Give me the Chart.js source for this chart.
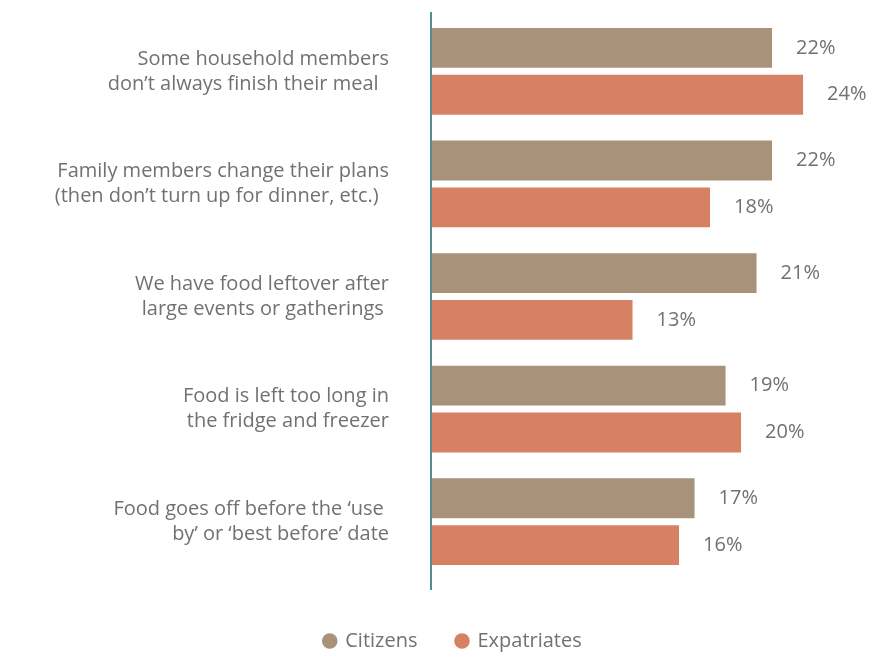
<!DOCTYPE html>
<html lang="en">
<head>
    <meta charset="UTF-8">
    <title>Reasons for food waste</title>
    <script src="https://cdn.jsdelivr.net/npm/chart.js"></script>
    <style>
        html, body { margin: 0; padding: 0; background: #ffffff; }
        #wrap { width: 887px; height: 655px; }
    </style>
</head>
<body>
    <div id="wrap"><canvas id="grafico"></canvas></div>
    <script>
        // categories (two lines each) and share of respondents per group, in %
        const reasons = [
            ["Some household members", "don’t always finish their meal  "],
            ["Family members change their plans", "(then don’t turn up for dinner, etc.)  "],
            ["We have food leftover after", "large events or gatherings "],
            ["Food is left too long in", "the fridge and freezer"],
            ["Food goes off before the ‘use ", "by’ or ‘best before’ date"]
        ];
        const citizens = [22, 22, 21, 19, 17];
        const expatriates = [24, 18, 13, 20, 16];

        const textGrey = "#717171";
        const fontName = "Open Sans";

        // percent labels to the right of each bar
        const valueLabels = {
            id: "valueLabels",
            afterDatasetsDraw(chart) {
                const ctx = chart.ctx;
                ctx.save();
                ctx.font = "20px '" + fontName + "'";
                ctx.fillStyle = textGrey;
                ctx.textAlign = "left";
                ctx.textBaseline = "middle";
                chart.data.datasets.forEach((ds, i) => {
                    chart.getDatasetMeta(i).data.forEach((bar, j) => {
                        ctx.fillText(ds.data[j] + "%", bar.x + 24, bar.y);
                    });
                });
                ctx.restore();
            }
        };

        // vertical axis line, a little longer than the plot area
        const axisLine = {
            id: "axisLine",
            afterDatasetsDraw(chart) {
                const { ctx, chartArea } = chart;
                ctx.save();
                ctx.strokeStyle = "#4f8f8c";
                ctx.lineWidth = 2;
                ctx.beginPath();
                ctx.moveTo(chartArea.left, chartArea.top - 3);
                ctx.lineTo(chartArea.left, chartArea.bottom + 12);
                ctx.stroke();
                ctx.restore();
            }
        };

        // push the legend row a bit lower
        const legendShift = {
            id: "legendShift",
            afterLayout(chart) {
                chart.legend.top += 6;
                chart.legend.bottom += 6;
            }
        };

        new Chart(document.getElementById("grafico"), {
            type: "bar",
            data: {
                labels: reasons,
                datasets: [
                    { label: "Citizens", data: citizens, backgroundColor: "#a8927a" },
                    { label: "Expatriates", data: expatriates, backgroundColor: "#d68064" }
                ]
            },
            options: {
                indexAxis: "y",
                responsive: true,
                maintainAspectRatio: false,
                animation: false,
                categoryPercentage: 0.832,
                barPercentage: 0.851,
                layout: { padding: { top: 15, left: 20, right: 1, bottom: 0 } },
                plugins: {
                    legend: {
                        position: "bottom",
                        labels: {
                            usePointStyle: true,
                            pointStyle: "circle",
                            boxWidth: 11,
                            boxHeight: 11,
                            padding: 39,
                            color: textGrey,
                            font: { family: fontName, size: 20 }
                        }
                    },
                    tooltip: { enabled: false }
                },
                scales: {
                    x: {
                        min: 0,
                        max: 29.35,
                        ticks: { display: false },
                        grid: { display: false },
                        border: { display: false },
                        afterFit(scale) { scale.height = 8; }
                    },
                    y: {
                        grid: { display: false, drawTicks: false },
                        border: { display: false },
                        ticks: {
                            padding: 42,
                            color: textGrey,
                            font: { family: fontName, size: 20, lineHeight: 1.25 }
                        },
                        afterFit(scale) {
                            scale.width = 411;
                            scale.paddingTop = 0;
                            scale.paddingBottom = 0;
                        }
                    }
                }
            },
            plugins: [valueLabels, axisLine, legendShift]
        });
    </script>
</body>
</html>
